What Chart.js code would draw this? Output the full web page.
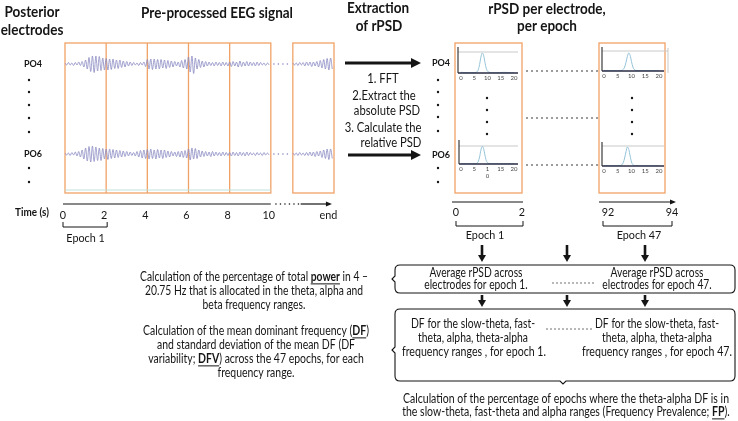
<!DOCTYPE html>
<html>
<head>
<meta charset="utf-8">
<script src="https://cdn.jsdelivr.net/npm/chart.js@4.4.1/dist/chart.umd.min.js"></script>
<style>
  html, body { margin: 0; padding: 0; background: #fff; }
  #wrap { position: relative; width: 738px; height: 421px; overflow: hidden; }
  #wrap canvas { position: absolute; left: 0; top: 0; }
</style>
</head>
<body>
<div id="wrap">
  <canvas id="notes" width="738" height="421"></canvas>
  <canvas id="eeg" width="738" height="421"></canvas>
  <canvas id="psd1" width="738" height="421"></canvas>
  <canvas id="psd2" width="738" height="421"></canvas>
  <canvas id="psd3" width="738" height="421"></canvas>
  <canvas id="psd4" width="738" height="421"></canvas>
</div>
<script>
// ---------------- data ----------------
const ELECTRODES = ['PO4', 'PO6'];
const EPOCH_STARTS = [0, 2, 4, 6, 8, 11.07];   // s; the last one is the "end" epoch
const EPOCH_LEN = 2;
const TIME_TICKS = [0, 2, 4, 6, 8, 10, 12.9];
const TIME_TICK_LABELS = ['0', '2', '4', '6', '8', '10', 'end'];

// EEG peaks/troughs per epoch (arbitrary units)
const PO4_SIGNAL = [
  [1, -1, 1.5, -1, 1, -1.5, 1.5, -1, 2, -1.5, 2.5, -3, 4, -5, 6.5, -7.5, 8, -8.5, 8, -7, 7.5, -6.5, 6, -6],
  [5.5, -6, 5, -5.5, 5, -4.5, 4, -4.5, 4, -3.5, 3, -3, 2.5, -2, 2, -1.5, 1.5, -1, 1, -1.5, 1.5, -1, 2, -2.5],
  [4.5, -5, 5, -5.5, 5, -5, 4.5, -5, 4.5, -4, 4, -4.5, 3.5, -3.5, 3, -3, 2.5, -2, 2, -3, 3.5, -4, 4.5, -5],
  [7, -8, 8, -9.5, 6, -5, 4.5, -3.5, 3, -3, 2.5, -2, 2, -1.5, 1.5, -2, 2, -1.5, 1.5, -2, 2, -1.5, 1.5, -2],
  [2, -2.5, 2.5, -2, 2, -3, 3, -2.5, 2, -2, 2.5, -2, 2, -1.5, 1.5, -2, 2, -1.5, 1.5, -1, 1, -1.5, 1, -1],
  [1, -1, 1, -1.5, 1.5, -1, 1.5, -2, 2, -1.5, 2, -2.5, 2, -2, 2.5, -3, 3.5, -4, 4.5, -5, 5.5, -6, 6, -5]
];
const PO6_SIGNAL = [
  [1, -1, 1, -1.5, 1.5, -1, 2, -2, 2.5, -3, 4, -5, 6, -7, 7.5, -8, 8, -7.5, 7, -6.5, 6, -6.5, 5.5, -5],
  [5, -5.5, 5, -4.5, 4.5, -4, 4, -3.5, 3.5, -3, 3, -2.5, 2.5, -2, 2, -1.5, 1.5, -2, 2.5, -3, 3.5, -4, 4, -4.5],
  [4.5, -5, 5, -4.5, 4, -5, 4.5, -4, 4, -4.5, 4, -3.5, 3, -3, 2.5, -2, 2, -2.5, 2.5, -3, 3, -3.5, 3.5, -4],
  [5, -6, 6, -5, 5.5, -4.5, 4, -3, 3, -2.5, 2.5, -2, 2, -2.5, 2.5, -2, 2, -1.5, 1.5, -2, 2, -1.5, 1.5, -1.5],
  [1.5, -2, 2, -1.5, 1.5, -2, 2, -1.5, 1.5, -2, 2, -1.5, 1.5, -1, 1, -1.5, 1.5, -1, 1, -1.5, 1.5, -1, 1, -1],
  [1, -1, 1, -1.5, 1.5, -1, 1, -1.5, 1.5, -1.5, 2, -2, 2, -2.5, 2.5, -2, 3, -3.5, 4, -4.5, 5, -5.5, 5, -4.5]
];

// relative PSD, 0-20 Hz in 0.5 Hz steps
const FREQS = [0, 0.5, 1, 1.5, 2, 2.5, 3, 3.5, 4, 4.5, 5, 5.5, 6, 6.5, 7, 7.5, 8, 8.5, 9, 9.5,
  10, 10.5, 11, 11.5, 12, 12.5, 13, 13.5, 14, 14.5, 15, 15.5, 16, 16.5, 17, 17.5, 18, 18.5, 19, 19.5, 20];
const PSD_EP1_PO4 = [0.010, 0.009, 0.007, 0.006, 0.005, 0.005, 0.004, 0.004, 0.004, 0.004,
  0.005, 0.007, 0.015, 0.045, 0.120, 0.225, 0.285, 0.255, 0.160, 0.070,
  0.028, 0.012, 0.007, 0.005, 0.004, 0.004, 0.004, 0.005, 0.005, 0.006,
  0.007, 0.008, 0.009, 0.009, 0.008, 0.007, 0.006, 0.005, 0.004, 0.004, 0.003];
const PSD_EP1_PO6 = [0.008, 0.007, 0.006, 0.005, 0.004, 0.004, 0.004, 0.003, 0.003, 0.003,
  0.004, 0.006, 0.012, 0.040, 0.115, 0.230, 0.295, 0.260, 0.155, 0.060,
  0.022, 0.009, 0.005, 0.004, 0.003, 0.003, 0.003, 0.003, 0.003, 0.003,
  0.003, 0.003, 0.003, 0.003, 0.003, 0.003, 0.003, 0.003, 0.003, 0.003, 0.003];
const PSD_EP47_PO4 = [0.009, 0.008, 0.007, 0.006, 0.005, 0.005, 0.004, 0.004, 0.004, 0.004,
  0.004, 0.005, 0.006, 0.010, 0.025, 0.060, 0.130, 0.220, 0.270, 0.235,
  0.140, 0.060, 0.022, 0.010, 0.006, 0.005, 0.004, 0.004, 0.004, 0.004,
  0.004, 0.004, 0.004, 0.004, 0.004, 0.004, 0.004, 0.004, 0.004, 0.004, 0.004];
const PSD_EP47_PO6 = [0.007, 0.006, 0.005, 0.005, 0.004, 0.004, 0.003, 0.003, 0.003, 0.003,
  0.004, 0.005, 0.008, 0.018, 0.050, 0.120, 0.215, 0.285, 0.250, 0.150,
  0.060, 0.020, 0.008, 0.005, 0.004, 0.003, 0.003, 0.003, 0.003, 0.003,
  0.003, 0.003, 0.003, 0.003, 0.003, 0.003, 0.003, 0.003, 0.003, 0.003, 0.003];
const PSD_TOP = 0.3;
const FREQ_TICKS = [0, 5, 10, 15, 20];
const FREQ_TICK_LABELS = ['0', '5', '10', '15', '20'];
const FREQ_TICK_LABELS_WRAPPED = ['0', '5', ['1', '0'], '15', '20'];

const RPSD_EPOCH_LABELS = ['Epoch 1', 'Epoch 47'];
const RPSD_TIME_TICKS = [['0', '2'], ['92', '94']];

// ---------------- drawing helpers ----------------
const FONT = 'Lato, "DejaVu Sans", sans-serif';
const SX = 0.9;          // squeeze Lato to roughly Calibri widths
const BODY = 12.5;
const ORANGE = '#f0a266';
const INK = '#151515';

function drawText(ctx, str, x, y, opt = {}) {
  const { size = BODY, bold = false, align = 'center', color = INK, sx = SX } = opt;
  ctx.save();
  ctx.font = (bold ? 'bold ' : '') + size + 'px ' + FONT;
  ctx.fillStyle = color;
  ctx.textBaseline = 'middle';
  ctx.textAlign = align;
  ctx.translate(x, y);
  ctx.scale(sx, 1);
  ctx.fillText(str, 0, 0);
  ctx.restore();
}

// parts: plain strings, or {b: '...'} for bold + underlined words
const fontOf = (p, size) => (typeof p === 'string' ? '' : 'bold ') + size + 'px ' + FONT;
const textOf = p => typeof p === 'string' ? p : p.b;

function naturalWidth(ctx, parts, size) {
  ctx.save();
  const w = parts.reduce((s, p) => { ctx.font = fontOf(p, size); return s + ctx.measureText(textOf(p)).width; }, 0);
  ctx.restore();
  return w;
}

function drawRich(ctx, parts, cx, y, size, sx) {
  ctx.save();
  ctx.textBaseline = 'middle';
  ctx.textAlign = 'left';
  ctx.fillStyle = INK;
  ctx.strokeStyle = INK;
  const widths = parts.map(p => { ctx.font = fontOf(p, size); return ctx.measureText(textOf(p)).width * sx; });
  let x = cx - widths.reduce((a, b) => a + b, 0) / 2;
  parts.forEach((p, i) => {
    ctx.font = fontOf(p, size);
    ctx.save();
    ctx.translate(x, y);
    ctx.scale(sx, 1);
    ctx.fillText(textOf(p), 0, 0);
    ctx.restore();
    if (typeof p !== 'string') {
      ctx.lineWidth = 1;
      ctx.beginPath();
      ctx.moveTo(x, y + size * 0.55);
      ctx.lineTo(x + widths[i], y + size * 0.55);
      ctx.stroke();
    }
    x += widths[i];
  });
  ctx.restore();
}

// centred paragraph; the first line is squeezed to refW and the rest follow the same squeeze
function para(ctx, lines, cx, y0, lh, refW, size = BODY) {
  const rows = lines.map(l => typeof l === 'string' ? [l] : l);
  const sx = Math.min(1, refW / naturalWidth(ctx, rows[0], size));
  rows.forEach((parts, i) => drawRich(ctx, parts, cx, y0 + i * lh, size, sx));
}

function arrow(ctx, x1, y1, x2, y2, lw, headLen, headW) {
  const ang = Math.atan2(y2 - y1, x2 - x1);
  ctx.save();
  ctx.strokeStyle = INK;
  ctx.fillStyle = INK;
  ctx.lineWidth = lw;
  ctx.beginPath();
  ctx.moveTo(x1, y1);
  ctx.lineTo(x2 - Math.cos(ang) * headLen * 0.8, y2 - Math.sin(ang) * headLen * 0.8);
  ctx.stroke();
  ctx.translate(x2, y2);
  ctx.rotate(ang);
  ctx.beginPath();
  ctx.moveTo(0, 0);
  ctx.lineTo(-headLen, headW / 2);
  ctx.lineTo(-headLen, -headW / 2);
  ctx.closePath();
  ctx.fill();
  ctx.restore();
}

function dottedH(ctx, x1, x2, y, step, r, color) {
  ctx.save();
  ctx.fillStyle = color;
  for (let x = x1; x <= x2; x += step) ctx.fillRect(x - r / 2, y - r / 2, r, r);
  ctx.restore();
}

function dot(ctx, x, y, r = 1.2) {
  ctx.beginPath();
  ctx.arc(x, y, r, 0, Math.PI * 2);
  ctx.fill();
}

function bracket(ctx, x1, x2, yTop, yBot) {
  ctx.beginPath();
  ctx.moveTo(x1, yTop); ctx.lineTo(x1, yBot); ctx.lineTo(x2, yBot); ctx.lineTo(x2, yTop);
  ctx.stroke();
}

// rounded box with a small brace-like notch on the left (and optionally at the bottom)
function braceBox(ctx, l, t, r, b, notchY, bottomNotchX) {
  const rad = 5;
  ctx.beginPath();
  ctx.moveTo(l + rad, t);
  ctx.lineTo(r - rad, t);
  ctx.quadraticCurveTo(r, t, r, t + rad);
  ctx.lineTo(r, b - rad);
  ctx.quadraticCurveTo(r, b, r - rad, b);
  if (bottomNotchX) {
    ctx.lineTo(bottomNotchX + 3, b);
    ctx.lineTo(bottomNotchX, b + 3);
    ctx.lineTo(bottomNotchX - 3, b);
  }
  ctx.lineTo(l + rad, b);
  ctx.quadraticCurveTo(l, b, l, b - rad);
  ctx.lineTo(l, notchY + 3);
  ctx.lineTo(l - 3, notchY);
  ctx.lineTo(l, notchY - 3);
  ctx.lineTo(l, t + rad);
  ctx.quadraticCurveTo(l, t, l + rad, t);
  ctx.stroke();
}

function padFor(l, t, r, b) {
  return { left: l, top: t, right: 738 - r, bottom: 421 - b };
}

const quiet = { legend: { display: false }, tooltip: { enabled: false } };

// ---------------- EEG traces ----------------
const CHANNEL_OFFSET = [90, 0];

function signalPoints(epochs, offset) {
  const pts = [];
  epochs.forEach((vals, e) => {
    if (e === epochs.length - 1) pts.push({ x: EPOCH_STARTS[e] - 0.5, y: null });
    const dt = EPOCH_LEN / vals.length;
    vals.forEach((v, i) => pts.push({ x: EPOCH_STARTS[e] + i * dt, y: offset + v }));
  });
  return pts;
}

const eegDecor = {
  id: 'eegDecor',
  beforeDatasetsDraw(chart) {
    const { ctx, chartArea: a, scales: { x } } = chart;
    ctx.save();
    ctx.strokeStyle = ORANGE;
    ctx.lineWidth = 1.3;
    const xa = x.getPixelForValue(EPOCH_STARTS[0]);
    const xb = x.getPixelForValue(EPOCH_STARTS[4] + EPOCH_LEN);
    ctx.strokeRect(xa, a.top, xb - xa, a.bottom - a.top);
    EPOCH_STARTS.slice(1, 5).forEach(t => {
      const px = x.getPixelForValue(t);
      ctx.beginPath(); ctx.moveTo(px, a.top); ctx.lineTo(px, a.bottom); ctx.stroke();
    });
    const xl = x.getPixelForValue(EPOCH_STARTS[5]);
    const xr = x.getPixelForValue(EPOCH_STARTS[5] + EPOCH_LEN);
    ctx.strokeRect(xl, a.top, xr - xl, a.bottom - a.top);
    // faint reference line near the bottom of the recording
    ctx.strokeStyle = '#bfe0da';
    ctx.lineWidth = 1;
    ctx.beginPath(); ctx.moveTo(xa, a.bottom - 3); ctx.lineTo(xb, a.bottom - 3); ctx.stroke();
    ctx.restore();
  },
  afterDatasetsDraw(chart) {
    const { ctx, scales: { x, y } } = chart;
    ctx.save();
    // dotted gap before the last epoch
    CHANNEL_OFFSET.forEach(off => {
      dottedH(ctx, x.getPixelForValue(10.15), x.getPixelForValue(11.0), y.getPixelForValue(off), 4.5, 1.3, '#8888c2');
    });
    // electrode labels and dots
    ctx.fillStyle = INK;
    ELECTRODES.forEach((name, i) => drawText(ctx, name, 33, y.getPixelForValue(CHANNEL_OFFSET[i]), { size: 10, bold: true }));
    [80, 92, 105, 118, 132, 168, 182].forEach(py => dot(ctx, 29, py));

    // time axis
    const ay = 204;
    ctx.strokeStyle = INK;
    ctx.lineWidth = 1.2;
    ctx.beginPath();
    ctx.moveTo(x.getPixelForValue(0) - 2, ay);
    ctx.lineTo(x.getPixelForValue(10), ay);
    ctx.stroke();
    dottedH(ctx, x.getPixelForValue(10.25), x.getPixelForValue(11.4), ay, 4.5, 1.3, INK);
    arrow(ctx, x.getPixelForValue(11.45), ay, x.getPixelForValue(12.97), ay, 1.2, 6, 5);
    drawText(ctx, 'Time (s)', 32, 212, { size: 11, bold: true });
    TIME_TICKS.forEach((t, i) => drawText(ctx, TIME_TICK_LABELS[i], x.getPixelForValue(t) - 2, 215, { size: 12 }));
    ctx.lineWidth = 1;
    bracket(ctx, x.getPixelForValue(0) - 2, x.getPixelForValue(2) + 1, 222, 227);
    drawText(ctx, 'Epoch 1', x.getPixelForValue(1), 238, { size: 12 });
    ctx.restore();
  }
};

new Chart(document.getElementById('eeg'), {
  type: 'line',
  data: {
    datasets: [
      { label: ELECTRODES[0], data: signalPoints(PO4_SIGNAL, CHANNEL_OFFSET[0]) },
      { label: ELECTRODES[1], data: signalPoints(PO6_SIGNAL, CHANNEL_OFFSET[1]) }
    ]
  },
  plugins: [eegDecor],
  options: {
    responsive: false,
    animation: false,
    layout: { padding: padFor(65, 43, 334, 193) },
    elements: {
      point: { radius: 0 },
      line: { borderColor: '#8888c2', borderWidth: 0.8, tension: 0.35 }
    },
    scales: {
      x: { type: 'linear', min: 0, max: 13.07, display: false },
      y: { min: -39, max: 111, display: false }
    },
    plugins: quiet
  }
});

// ---------------- rPSD mini plots ----------------
const psdAxes = {
  id: 'psdAxes',
  beforeDatasetsDraw(chart) {
    const { ctx, chartArea: a, scales: { y } } = chart;
    const opt = chart.config.options.plugins.psdAxes;
    ctx.save();
    ctx.strokeStyle = '#c9c9c9';
    ctx.lineWidth = 1;
    const ty = y.getPixelForValue(PSD_TOP);
    ctx.beginPath(); ctx.moveTo(a.left, ty); ctx.lineTo(a.right + (opt.extend || 0), ty); ctx.stroke();
    if (opt.extend) {
      ctx.beginPath(); ctx.moveTo(a.right + opt.extend, ty - 3); ctx.lineTo(a.right + opt.extend, a.bottom + 2); ctx.stroke();
    }
    ctx.restore();
  },
  afterDatasetsDraw(chart) {
    const { ctx, chartArea: a, scales: { x } } = chart;
    const opt = chart.config.options.plugins.psdAxes;
    ctx.save();
    ctx.strokeStyle = '#3b3b3b';
    ctx.lineWidth = 1.2;
    ctx.beginPath(); ctx.moveTo(a.left, a.top); ctx.lineTo(a.left, a.bottom); ctx.stroke();
    ctx.strokeStyle = '#2a2d45';
    ctx.lineWidth = 1.6;
    ctx.beginPath(); ctx.moveTo(a.left, a.bottom); ctx.lineTo(a.right, a.bottom); ctx.stroke();
    FREQ_TICKS.forEach((f, i) => {
      const lab = opt.labels[i];
      const lines = Array.isArray(lab) ? lab : [lab];
      lines.forEach((s, k) => drawText(ctx, s, x.getPixelForValue(f), a.bottom + 5 + k * 7, { size: 6, color: '#444', sx: 1 }));
    });
    ctx.restore();
  }
};

function psdChart(id, values, box, topLineY, f0px, f20px, labels, extend) {
  const [l, t, r, b] = box;
  const pxHz = (f20px - f0px) / 20;
  new Chart(document.getElementById(id), {
    type: 'line',
    data: { labels: FREQS, datasets: [{ data: FREQS.map((f, i) => ({ x: f, y: values[i] })) }] },
    plugins: [psdAxes],
    options: {
      responsive: false,
      animation: false,
      layout: { padding: padFor(l, t, r, b) },
      elements: {
        point: { radius: 0 },
        line: { borderColor: '#93c2d8', borderWidth: 1, cubicInterpolationMode: 'monotone' }
      },
      scales: {
        x: { type: 'linear', min: -(f0px - l) / pxHz, max: 20 + (r - f20px) / pxHz, display: false },
        y: { min: 0, max: PSD_TOP * (b - t) / (b - topLineY), display: false }
      },
      plugins: Object.assign({ psdAxes: { labels, extend } }, quiet)
    }
  });
}

psdChart('psd1', PSD_EP1_PO4, [458, 47, 518, 73], 52, 461, 514, FREQ_TICK_LABELS, 0);
psdChart('psd2', PSD_EP1_PO6, [459, 140, 518, 164], 146, 461, 514, FREQ_TICK_LABELS_WRAPPED, 0);
psdChart('psd3', PSD_EP47_PO4, [602, 47, 664, 71], 51, 604, 659, FREQ_TICK_LABELS, 4);
psdChart('psd4', PSD_EP47_PO6, [602, 142, 664, 166], 146, 604, 659, FREQ_TICK_LABELS, 0);

// ---------------- the rest of the diagram ----------------
const LEFT_NOTE_1 = [
  ['Calculation of the percentage of total ', { b: 'power' }, ' in 4 –'],
  '20.75 Hz that is allocated in the theta, alpha and',
  'beta frequency ranges.'
];
const LEFT_NOTE_2 = [
  ['Calculation of the mean dominant frequency (', { b: 'DF' }, ')'],
  'and standard deviation of the mean DF (DF',
  ['variability; ', { b: 'DFV' }, ') across the 47 epochs, for each'],
  'frequency range.'
];
const BOTTOM_NOTE = [
  'Calculation of the percentage of epochs where the theta-alpha DF is in',
  ['the slow-theta, fast-theta and alpha ranges (Frequency Prevalence; ', { b: 'FP' }, ').']
];

const diagram = {
  id: 'diagram',
  afterDraw(chart) {
    const ctx = chart.ctx;
    ctx.save();
    ctx.fillStyle = INK;
    ctx.strokeStyle = INK;

    // headings
    drawText(ctx, 'Posterior', 32, 12, { size: 15, bold: true });
    drawText(ctx, 'electrodes', 32, 30, { size: 15, bold: true });
    drawText(ctx, 'Pre-processed EEG signal', 217, 13, { size: 15, bold: true });
    drawText(ctx, 'Extraction', 378, 8, { size: 15, bold: true });
    drawText(ctx, 'of rPSD', 379, 26, { size: 15, bold: true });
    drawText(ctx, 'rPSD per electrode,', 547, 9, { size: 15, bold: true });
    drawText(ctx, 'per epoch', 547, 26, { size: 15, bold: true });

    // extraction arrows and steps
    arrow(ctx, 345, 63, 421, 63, 3.2, 10, 10);
    arrow(ctx, 348, 155, 421, 155, 3.2, 10, 10);
    drawText(ctx, '1. FFT', 383, 79);
    drawText(ctx, '2.Extract the', 384, 96);
    drawText(ctx, 'absolute PSD', 387, 111);
    drawText(ctx, '3. Calculate the', 383, 128);
    drawText(ctx, 'relative PSD', 391, 143);

    // rPSD epoch boxes
    ctx.strokeStyle = ORANGE;
    ctx.lineWidth = 1.3;
    ctx.strokeRect(455, 43, 67, 150);
    ctx.strokeRect(599, 43, 66, 150);
    ctx.strokeStyle = INK;
    ELECTRODES.forEach((name, i) => drawText(ctx, name, 441, [63, 155][i], { size: 10, bold: true }));
    [80, 92, 105, 117, 131, 168, 182].forEach(py => dot(ctx, 438, py));
    [98, 110, 122, 134].forEach(py => { dot(ctx, 487, py); dot(ctx, 632, py); });
    [71, 118, 165].forEach(py => dottedH(ctx, 527, 598, py, 5, 1.3, INK));

    // epoch time axes
    ctx.lineWidth = 1.2;
    ctx.beginPath(); ctx.moveTo(452, 202); ctx.lineTo(523, 202); ctx.stroke();
    arrow(ctx, 599, 202, 676, 202, 1.2, 6, 5);
    drawText(ctx, RPSD_TIME_TICKS[0][0], 456, 212, { size: 12 });
    drawText(ctx, RPSD_TIME_TICKS[0][1], 522, 212, { size: 12 });
    drawText(ctx, RPSD_TIME_TICKS[1][0], 608, 212, { size: 12 });
    drawText(ctx, RPSD_TIME_TICKS[1][1], 672, 212, { size: 12 });
    ctx.lineWidth = 1;
    bracket(ctx, 456, 523, 221, 226);
    bracket(ctx, 603, 672, 221, 226);
    drawText(ctx, RPSD_EPOCH_LABELS[0], 485, 235, { size: 12 });
    drawText(ctx, RPSD_EPOCH_LABELS[1], 639, 235, { size: 12 });

    // down arrows
    [482, 567, 645].forEach(px => {
      arrow(ctx, px, 245, px, 262, 2.6, 7, 8);
      arrow(ctx, px, 295, px, 307, 2.6, 7, 8);
    });

    // summary boxes
    ctx.lineWidth = 1.1;
    braceBox(ctx, 395, 265, 735, 293, 279);
    braceBox(ctx, 395, 309, 735, 381, 350, 563);
    para(ctx, ['Average rPSD across', 'electrodes for epoch 1.'], 476, 273, 12, 93);
    para(ctx, ['Average rPSD across', 'electrodes for epoch 47.'], 657, 273, 12, 93);
    dottedH(ctx, 553, 594, 283, 4, 1.1, INK);
    para(ctx, ['frequency ranges , for epoch 1.'], 474, 352, 14, 144);
    para(ctx, ['DF for the slow-theta, fast-', 'theta, alpha, theta-alpha'], 473, 324, 14, 124);
    para(ctx, ['frequency ranges , for epoch 47.'], 657, 352, 14, 150);
    para(ctx, ['DF for the slow-theta, fast-', 'theta, alpha, theta-alpha'], 657, 324, 14, 124);
    dottedH(ctx, 547, 592, 329, 4, 1.1, INK);

    // notes
    para(ctx, LEFT_NOTE_1, 254, 277, 14, 228);
    para(ctx, LEFT_NOTE_2, 256, 331, 14, 226);
    para(ctx, BOTTOM_NOTE, 566, 399, 13, 326);
    ctx.restore();
  }
};

new Chart(document.getElementById('notes'), {
  type: 'scatter',
  data: { datasets: [] },
  plugins: [diagram],
  options: {
    responsive: false,
    animation: false,
    scales: { x: { display: false }, y: { display: false } },
    plugins: quiet
  }
});
</script>
</body>
</html>
